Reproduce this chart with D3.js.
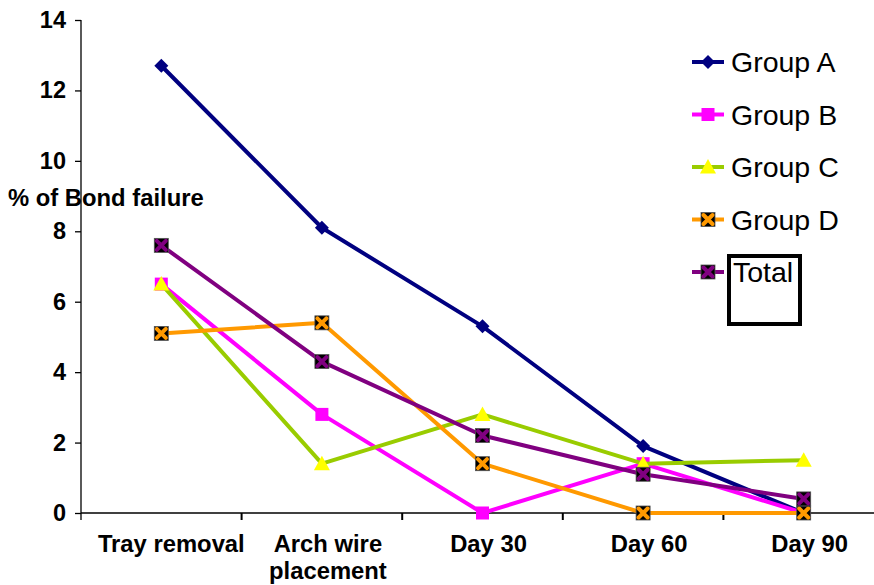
<!DOCTYPE html>
<html>
<head>
<meta charset="utf-8">
<script src="https://cdn.jsdelivr.net/npm/d3@7"></script>
<style>
  html, body { margin: 0; padding: 0; background: #fff; }
  svg { display: block; }
</style>
</head>
<body>
<svg id="chart" width="874" height="585"></svg>
<script>
// Bond failure percentages per stage of treatment
const categories = ["Tray removal", "Arch wire placement", "Day 30", "Day 60", "Day 90"];
const categoryLines = [["Tray removal"], ["Arch wire", "placement"], ["Day 30"], ["Day 60"], ["Day 90"]];
const seriesNames = ["Group A", "Group B", "Group C", "Group D", "Total"];
const groupA = [12.7, 8.1, 5.3, 1.9, 0.0];
const groupB = [6.5, 2.8, 0.0, 1.4, 0.0];
const groupC = [6.5, 1.4, 2.8, 1.4, 1.5];
const groupD = [5.1, 5.4, 1.4, 0.0, 0.0];
const total  = [7.6, 4.3, 2.2, 1.1, 0.4];
const yTicks = [0, 2, 4, 6, 8, 10, 12, 14];

const styles = [
  { line: "#000080", fill: "#000080", marker: "diamond" },
  { line: "#FF00FF", fill: "#FF00FF", marker: "square" },
  { line: "#99CC00", fill: "#FFFF00", marker: "triangle" },
  { line: "#FF9900", fill: "#FF9900", marker: "cross" },
  { line: "#800080", fill: "#800080", marker: "cross" }
];
const seriesValues = [groupA, groupB, groupC, groupD, total];

const svg = d3.select("#chart");
const plot = { left: 81, top: 20, bottom: 513, right: 884 };
const boldFont = "Liberation Sans, Arial, sans-serif";

const x = d3.scaleBand().domain(categories).range([plot.left, plot.right]);
const y = d3.scaleLinear().domain([0, 14]).range([plot.bottom, plot.top]);
const cx = c => x(c) + x.bandwidth() / 2;

// Axis title (sits under the axis line)
svg.append("text")
  .attr("x", 8).attr("y", 206)
  .attr("font-family", boldFont)
  .attr("font-weight", "bold").attr("font-size", 23.8)
  .text("% of Bond failure");

// Y axis
const yAxis = svg.append("g")
  .attr("transform", `translate(${plot.left},0)`)
  .call(d3.axisLeft(y).tickValues(yTicks).tickSize(6).tickPadding(9).tickFormat(d3.format("d")));
yAxis.select(".domain").attr("stroke", "#000").attr("stroke-width", 1.3).attr("d", `M0,${plot.top}H0V${plot.bottom + 7}`);
yAxis.selectAll(".tick line").attr("stroke", "#000").attr("stroke-width", 1.3);
yAxis.selectAll(".tick text")
  .attr("font-family", boldFont)
  .attr("font-weight", "bold").attr("font-size", 23.5).attr("fill", "#000");

// X axis: baseline with ticks on category boundaries
const xAxis = svg.append("g");
xAxis.append("line")
  .attr("x1", plot.left).attr("x2", plot.right)
  .attr("y1", y(0)).attr("y2", y(0))
  .attr("stroke", "#000").attr("stroke-width", 1.3);
xAxis.selectAll("line.bound")
  .data(categories.slice(1))
  .join("line")
  .attr("class", "bound")
  .attr("x1", d => x(d)).attr("x2", d => x(d))
  .attr("y1", y(0)).attr("y2", y(0) + 7)
  .attr("stroke", "#000").attr("stroke-width", 2);

// Category labels, one text element per line
categoryLines.forEach((lines, i) => {
  const off = i === 0 ? 10 : 6;
  lines.forEach((ln, j) => {
    xAxis.append("text")
      .attr("class", "cat")
      .attr("x", cx(categories[i]) + off)
      .attr("y", 552 + j * 26.8)
      .attr("text-anchor", "middle")
      .attr("font-family", boldFont)
      .attr("font-weight", "bold").attr("font-size", 23.8)
      .text(ln);
  });
});

// Marker shapes
function drawMarker(g, kind, fill, px, py) {
  if (kind === "diamond") {
    g.append("path")
      .attr("d", `M${px},${py - 7}L${px + 7},${py}L${px},${py + 7}L${px - 7},${py}Z`)
      .attr("fill", fill);
  } else if (kind === "square") {
    g.append("rect").attr("x", px - 6.5).attr("y", py - 6.5).attr("width", 13).attr("height", 13).attr("fill", fill);
  } else if (kind === "triangle") {
    g.append("path")
      .attr("d", `M${px},${py - 8}L${px + 8},${py + 6.5}L${px - 8},${py + 6.5}Z`)
      .attr("fill", fill);
  } else if (kind === "cross") {
    g.append("rect").attr("x", px - 7).attr("y", py - 7).attr("width", 14).attr("height", 14)
      .attr("fill", "#000").attr("stroke", "#555").attr("stroke-width", 0.8);
    g.append("path")
      .attr("d", `M${px - 4.5},${py - 4.5}L${px + 4.5},${py + 4.5}M${px + 4.5},${py - 4.5}L${px - 4.5},${py + 4.5}`)
      .attr("stroke", fill).attr("stroke-width", 4).attr("stroke-linecap", "round");
  }
}

// Series lines and markers
const line = d3.line().x((d, i) => cx(categories[i])).y(d => y(d));
seriesValues.forEach((vals, si) => {
  const st = styles[si];
  const g = svg.append("g").attr("class", "series");
  g.append("path")
    .datum(vals)
    .attr("d", line)
    .attr("fill", "none")
    .attr("stroke", st.line)
    .attr("stroke-width", 4)
    .attr("stroke-linejoin", "round");
  vals.forEach((v, i) => drawMarker(g, st.marker, st.fill, cx(categories[i]), y(v)));
});

// Legend
const legend = svg.append("g");
const legendY = d => 62 + d * 52.5;
seriesNames.forEach((name, i) => {
  const st = styles[i];
  const ly = legendY(i);
  const g = legend.append("g");
  g.append("line").attr("x1", 692).attr("x2", 724).attr("y1", ly).attr("y2", ly)
    .attr("stroke", st.line).attr("stroke-width", 4);
  drawMarker(g, st.marker, st.fill, 708, ly);
  if (name === "Total") {
    g.append("rect").attr("x", 729).attr("y", 256).attr("width", 71).attr("height", 68)
      .attr("fill", "none").attr("stroke", "#000").attr("stroke-width", 4);
  }
  g.append("text")
    .attr("x", name === "Total" ? 733 : 731)
    .attr("y", ly + 10)
    .attr("font-family", boldFont)
    .attr("font-size", 28.5)
    .attr("fill", "#000")
    .text(name);
});
</script>
</body>
</html>
